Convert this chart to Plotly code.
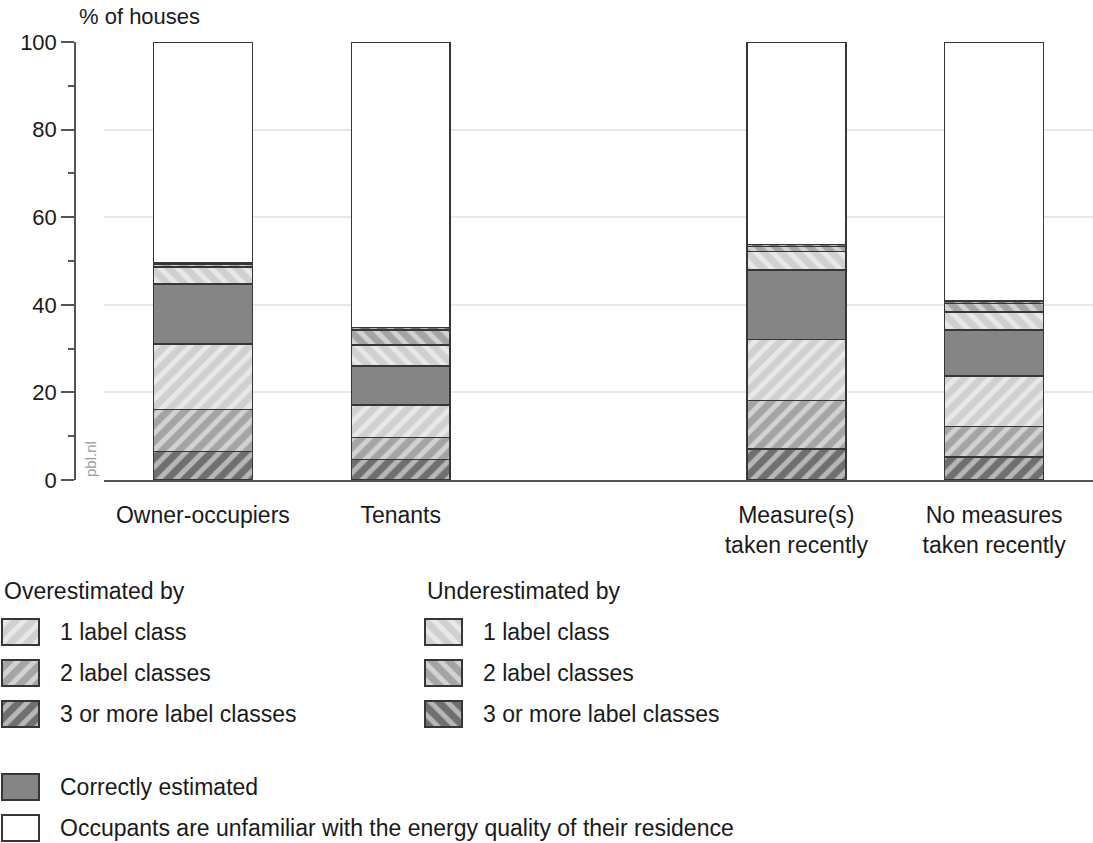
import plotly.graph_objects as go

# ---------------- data ----------------
categories = ["Owner-occupiers", "Tenants", "Measure(s)<br>taken recently", "No measures<br>taken recently"]
cat_pos = [0, 1, 3, 4]

over3 = [6.5, 4.7, 7.1, 5.3]
over2 = [9.6, 5.0, 11.0, 6.9]
over1 = [14.9, 7.4, 14.0, 11.5]
correct = [13.7, 8.9, 15.8, 10.5]
under1 = [3.9, 4.8, 4.3, 4.2]
under2 = [0.6, 3.4, 1.1, 1.9]
under3 = [0.4, 0.6, 0.5, 0.6]
unfamiliar = [50.4, 65.2, 46.2, 59.1]

y_ticks = [0, 20, 40, 60, 80, 100]

# ---------------- styles ----------------
W, H = 1093, 843
FONT = "Liberation Sans, Arial, sans-serif"
TXT = "#1a1a1a"
EDGE = "#363636"
LIGHT, MED, DARK, SOLID = "#d0d0d0", "#a4a4a4", "#6f6f6f", "#858585"
FS = 23


def px_x(p):
    return p / W


def px_y(p):
    return 1 - p / H


def mk(color, shape=""):
    m = dict(color=color, line=dict(color=EDGE, width=1.5))
    if shape:
        m["pattern"] = dict(shape=shape, fgcolor="white", size=12, solidity=0.42, fillmode="overlay")
    return m


series = [
    ("Overestimated by 3 or more label classes", over3, mk(DARK, "/")),
    ("Overestimated by 2 label classes", over2, mk(MED, "/")),
    ("Overestimated by 1 label class", over1, mk(LIGHT, "/")),
    ("Correctly estimated", correct, mk(SOLID)),
    ("Underestimated by 1 label class", under1, mk(LIGHT, "\\")),
    ("Underestimated by 2 label classes", under2, mk(MED, "\\")),
    ("Underestimated by 3 or more label classes", under3, mk(DARK, "\\")),
    ("Unfamiliar", unfamiliar, mk("white")),
]

fig = go.Figure()
for name, vals, marker in series:
    fig.add_trace(go.Bar(x=cat_pos, y=vals, name=name, marker=marker, width=0.5,
                         showlegend=False, xaxis="x", yaxis="y"))

# ---------------- legend (drawn on a hidden pixel axis) ----------------
legend_cols = [
    ("Overestimated by", 2, [("1 label class", mk(LIGHT, "/")),
                             ("2 label classes", mk(MED, "/")),
                             ("3 or more label classes", mk(DARK, "/"))]),
    ("Underestimated by", 425, [("1 label class", mk(LIGHT, "\\")),
                                ("2 label classes", mk(MED, "\\")),
                                ("3 or more label classes", mk(DARK, "\\"))]),
]
SW_W, SW_H = 37, 26
ROW0, ROW_STEP = 632, 41
annotations = []
for title, x0, items in legend_cols:
    annotations.append(dict(x=px_x(x0), y=px_y(591), xref="paper", yref="paper", text=title,
                            showarrow=False, xanchor="left", yanchor="middle",
                            font=dict(family=FONT, size=FS, color=TXT)))
    for i, (label, marker) in enumerate(items):
        cy = ROW0 + i * ROW_STEP
        fig.add_trace(go.Bar(x=[x0 + SW_W / 2], y=[SW_H], base=[cy - SW_H / 2], width=SW_W,
                             marker=marker, showlegend=False, hoverinfo="skip",
                             xaxis="x2", yaxis="y2"))
        annotations.append(dict(x=px_x(x0 + 56), y=px_y(cy), xref="paper", yref="paper", text=label,
                                showarrow=False, xanchor="left", yanchor="middle",
                                font=dict(family=FONT, size=FS, color=TXT)))

extra_items = [("Correctly estimated", mk(SOLID), 787),
               ("Occupants are unfamiliar with the energy quality of their residence", mk("white"), 828)]
for label, marker, cy in extra_items:
    fig.add_trace(go.Bar(x=[2 + SW_W / 2], y=[SW_H], base=[cy - SW_H / 2], width=SW_W,
                         marker=marker, showlegend=False, hoverinfo="skip",
                         xaxis="x2", yaxis="y2"))
    annotations.append(dict(x=px_x(58), y=px_y(cy), xref="paper", yref="paper", text=label,
                            showarrow=False, xanchor="left", yanchor="middle",
                            font=dict(family=FONT, size=FS, color=TXT)))

annotations.append(dict(x=px_x(77), y=px_y(16), xref="paper", yref="paper", text="% of houses",
                        showarrow=False, xanchor="left", yanchor="middle",
                        font=dict(family=FONT, size=FS - 1, color=TXT)))
annotations.append(dict(x=px_x(91), y=px_y(479), xref="paper", yref="paper", text="pbl.nl",
                        showarrow=False, xanchor="center", yanchor="bottom", textangle=-90,
                        font=dict(family=FONT, size=15, color="#9a9a9a")))

fig.update_layout(
    width=W, height=H, autosize=False,
    margin=dict(l=0, r=0, t=0, b=0, pad=0, autoexpand=False),
    paper_bgcolor="white", plot_bgcolor="rgba(0,0,0,0)",
    barmode="stack",
    font=dict(family=FONT, size=FS, color=TXT),
    xaxis=dict(domain=[px_x(104), 1.0], range=[-0.5, 4.5], tickvals=cat_pos, ticktext=categories,
               showgrid=False, zeroline=False, showline=True, linecolor="#555", linewidth=1.5,
               automargin=False,
               ticks="", ticklabelstandoff=14, tickfont=dict(family=FONT, size=FS, color=TXT), anchor="y"),
    yaxis=dict(domain=[px_y(480), px_y(42)], range=[0, 100], tickvals=y_ticks,
               anchor="free", position=px_x(75), automargin=False,
               showgrid=True, gridcolor="#e8e8e8", gridwidth=1.5, zeroline=False,
               showline=True, linecolor="#555", linewidth=1.5,
               ticks="outside", ticklen=13, tickwidth=1.5, tickcolor="#555",
               minor=dict(tickvals=[10, 30, 50, 70, 90], ticks="outside", ticklen=6,
                          tickwidth=1.5, tickcolor="#555", showgrid=False),
               tickfont=dict(family=FONT, size=22, color=TXT)),
    xaxis2=dict(domain=[0, 1], range=[0, W], visible=False, anchor="y2", fixedrange=True, automargin=False),
    yaxis2=dict(domain=[0, 1], range=[H, 0], visible=False, anchor="x2", fixedrange=True, automargin=False),
    annotations=annotations,
)

fig.write_html("out.html", post_script="document.body.style.margin='0';",
               config={"displayModeBar": False})
